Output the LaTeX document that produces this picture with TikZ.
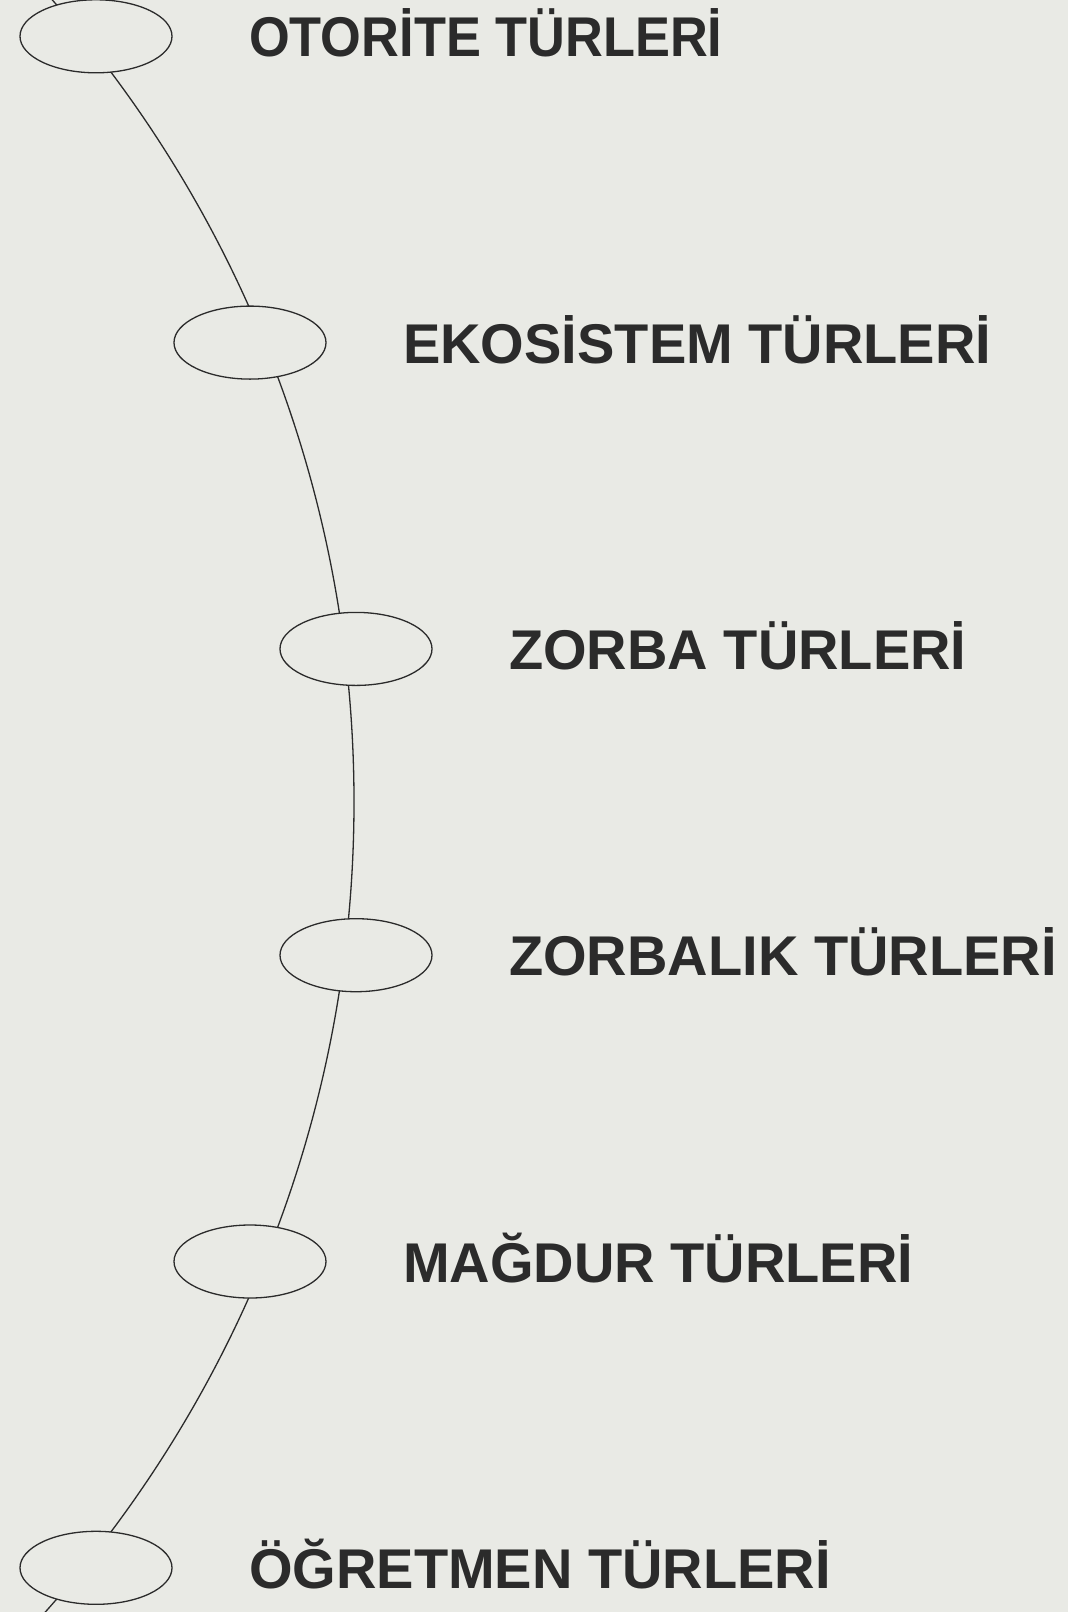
\documentclass[tikz,border=0pt]{standalone}
\usepackage{fontspec}
\setmainfont{Liberation Sans}
\usetikzlibrary{shapes.geometric}
\definecolor{bgcol}{RGB}{233,234,229}
\definecolor{inkcol}{RGB}{43,43,43}

\begin{document}
\begin{tikzpicture}[x=1pt,y=-1pt,
  oval/.style={ellipse, draw=inkcol, fill=bgcol, line width=1.3pt, minimum width=152pt, minimum height=73pt, inner sep=0pt},
  title/.style={anchor=base west, inner sep=0pt, text=inkcol, font=\fontsize{56}{60}\selectfont\bfseries}]
\fill[bgcol] (0,0) rectangle (1068,1612);
\useasboundingbox (0,0) rectangle (1068,1612);
\coordinate (Hub) at (-863,802);
\begin{scope}
\clip (0,0) rectangle (1068,1612);
\draw[inkcol, line width=1.3pt] (Hub) circle[radius=1217pt];
\end{scope}
\node[oval] (Oval1) at (96,36.3) {};
\node[oval] (Oval2) at (250,342.6) {};
\node[oval] (Oval3) at (356,648.9) {};
\node[oval] (Oval4) at (356,955.2) {};
\node[oval] (Oval5) at (250,1261.5) {};
\node[oval] (Oval6) at (96,1567.8) {};
\node[title] (Label1) at ([shift={(153,20.5)}]Oval1.center) {\scalebox{0.935}[1]{OTORİTE TÜRLERİ}};
\node[title] (Label2) at ([shift={(153,20.5)}]Oval2.center) {EKOSİSTEM TÜRLERİ};
\node[title] (Label3) at ([shift={(153,20.5)}]Oval3.center) {ZORBA TÜRLERİ};
\node[title] (Label4) at ([shift={(153,20.5)}]Oval4.center) {ZORBALIK TÜRLERİ};
\node[title] (Label5) at ([shift={(153,20.5)}]Oval5.center) {MAĞDUR TÜRLERİ};
\node[title] (Label6) at ([shift={(153,20.5)}]Oval6.center) {ÖĞRETMEN TÜRLERİ};
\end{tikzpicture}
\end{document}
